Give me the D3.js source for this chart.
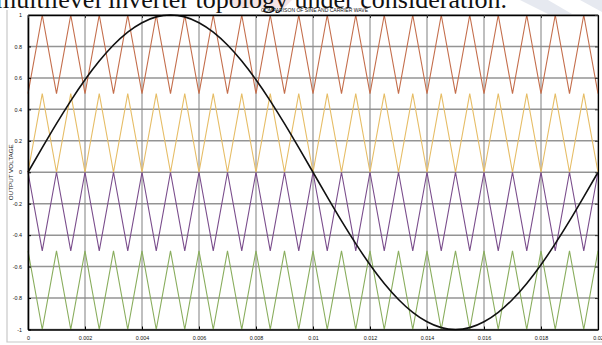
<!DOCTYPE html>
<html>
<head>
<meta charset="utf-8">
<script src="https://cdn.jsdelivr.net/npm/d3@7"></script>
<style>
  html, body { margin: 0; padding: 0; background: #fff; overflow: hidden; }
  svg { display: block; }
</style>
</head>
<body>
<div id="chart"></div>
<script>
// time of each carrier vertex / sine sample (seconds)
const sampleTimes = [
    0, 0.0005, 0.001, 0.0015, 0.002, 0.0025, 0.003, 0.0035, 0.004, 0.0045,
    0.005, 0.0055, 0.006, 0.0065, 0.007, 0.0075, 0.008, 0.0085, 0.009, 0.0095,
    0.01, 0.0105, 0.011, 0.0115, 0.012, 0.0125, 0.013, 0.0135, 0.014, 0.0145,
    0.015, 0.0155, 0.016, 0.0165, 0.017, 0.0175, 0.018, 0.0185, 0.019, 0.0195,
    0.02,
];

// triangular carriers (vertex values)
const carrierTop = [
    0.5, 1, 0.5, 1, 0.5, 1, 0.5, 1, 0.5, 1, 0.5, 1, 0.5, 1, 0.5, 1, 0.5, 1, 0.5, 1,
    0.5, 1, 0.5, 1, 0.5, 1, 0.5, 1, 0.5, 1, 0.5, 1, 0.5, 1, 0.5, 1, 0.5, 1, 0.5, 1, 0.5,
];
const carrierUpper = [
    0, 0.5, 0, 0.5, 0, 0.5, 0, 0.5, 0, 0.5, 0, 0.5, 0, 0.5, 0, 0.5, 0, 0.5, 0, 0.5,
    0, 0.5, 0, 0.5, 0, 0.5, 0, 0.5, 0, 0.5, 0, 0.5, 0, 0.5, 0, 0.5, 0, 0.5, 0, 0.5, 0,
];
const carrierLower = [
    0, -0.5, 0, -0.5, 0, -0.5, 0, -0.5, 0, -0.5, 0, -0.5, 0, -0.5, 0, -0.5, 0, -0.5, 0, -0.5,
    0, -0.5, 0, -0.5, 0, -0.5, 0, -0.5, 0, -0.5, 0, -0.5, 0, -0.5, 0, -0.5, 0, -0.5, 0, -0.5, 0,
];
const carrierBottom = [
    -0.5, -1, -0.5, -1, -0.5, -1, -0.5, -1, -0.5, -1, -0.5, -1, -0.5, -1, -0.5, -1, -0.5, -1, -0.5, -1,
    -0.5, -1, -0.5, -1, -0.5, -1, -0.5, -1, -0.5, -1, -0.5, -1, -0.5, -1, -0.5, -1, -0.5, -1, -0.5, -1, -0.5,
];

// reference sine
const sineValues = [
    0, 0.156, 0.309, 0.454, 0.588, 0.707, 0.809, 0.891, 0.951, 0.988,
    1, 0.988, 0.951, 0.891, 0.809, 0.707, 0.588, 0.454, 0.309, 0.156,
    0, -0.156, -0.309, -0.454, -0.588, -0.707, -0.809, -0.891, -0.951, -0.988,
    -1, -0.988, -0.951, -0.891, -0.809, -0.707, -0.588, -0.454, -0.309, -0.156,
    0,
];

const xTicks = [0, 0.002, 0.004, 0.006, 0.008, 0.01, 0.012, 0.014, 0.016, 0.018, 0.02];
const xTickLabels = ['0', '0.002', '0.004', '0.006', '0.008', '0.01', '0.012', '0.014', '0.016', '0.018', '0.02'];
const yTicks = [-1, -0.8, -0.6, -0.4, -0.2, 0, 0.2, 0.4, 0.6, 0.8, 1];
const yTickLabels = ['-1', '-0.8', '-0.6', '-0.4', '-0.2', '0', '0.2', '0.4', '0.6', '0.8', '1'];

const titleText = 'COMPARISON OF SINE AND CARRIER WAVE';
const yLabelText = 'OUTPUT VOLTAGE';
const captionText = 'multilevel inverter topology under consideration.';

const totalWidth = 602;
const totalHeight = 345;
const plot = { left: 28, right: 598, top: 15, bottom: 329.5 };
const fontColour = '#111';

const svg = d3
    .select('#chart')
    .append('svg')
    .attr('width', totalWidth)
    .attr('height', totalHeight)
    .attr('viewBox', `0 0 ${totalWidth} ${totalHeight}`);

const x = d3.scaleLinear().domain([0, 0.02]).range([plot.left, plot.right]);
const y = d3.scaleLinear().domain([-1, 1]).range([plot.bottom, plot.top]);

// faint page watermark bits
svg.append('path')
    .attr('d', 'M228,0 L292,0 L284,8 L236,8 Z')
    .attr('fill', '#f5e3e3');
svg.append('path')
    .attr('d', 'M520,0 L548,0 L572,14 L548,14 Z')
    .attr('fill', '#e6e9f0');
svg.append('path')
    .attr('d', 'M580,0 L602,0 L602,12 Z')
    .attr('fill', '#e6e9f0');

// caption text of the page, cut by the top edge
svg.append('text')
    .attr('x', -4)
    .attr('y', 8)
    .attr('textLength', 511)
    .attr('lengthAdjust', 'spacingAndGlyphs')
    .style('font-family', '"Liberation Serif", "Times New Roman", serif')
    .style('font-size', '26px')
    .attr('fill', '#111')
    .text(captionText);

// figure frame
svg.append('path')
    .attr('d', `M7,10 L7,342 L${totalWidth},342`)
    .attr('fill', 'none')
    .attr('stroke', '#c8c8c8')
    .attr('stroke-width', 1.2);

// grid
svg.append('g')
    .attr('class', 'grid-y')
    .selectAll('line')
    .data(yTicks)
    .join('line')
    .attr('x1', plot.left)
    .attr('x2', plot.right)
    .attr('y1', (d) => y(d))
    .attr('y2', (d) => y(d))
    .attr('stroke', '#949494')
    .attr('stroke-width', 1.5);

svg.append('g')
    .attr('class', 'grid-x')
    .selectAll('line')
    .data(xTicks)
    .join('line')
    .attr('x1', (d) => x(d))
    .attr('x2', (d) => x(d))
    .attr('y1', plot.top)
    .attr('y2', plot.bottom)
    .attr('stroke', '#8a8a8a')
    .attr('stroke-width', 1.1);

// carriers
const carriers = [
    { values: carrierTop, colour: '#c46e4c' },
    { values: carrierUpper, colour: '#e6bd66' },
    { values: carrierLower, colour: '#7a4d8c' },
    { values: carrierBottom, colour: '#89ad5d' },
];

const line = d3
    .line()
    .x((d) => x(d[0]))
    .y((d) => y(d[1]));

carriers.forEach((c) => {
    svg.append('path')
        .datum(sampleTimes.map((t, i) => [t, c.values[i]]))
        .attr('fill', 'none')
        .attr('stroke', c.colour)
        .attr('stroke-width', 1.1)
        .attr('d', line);
});

// sine reference
svg.append('path')
    .datum(sampleTimes.map((t, i) => [t, sineValues[i]]))
    .attr('fill', 'none')
    .attr('stroke', '#111')
    .attr('stroke-width', 1.6)
    .attr('d', line.curve(d3.curveNatural));

// axes box
const tickFont = (sel) =>
    sel.attr('fill', fontColour)
        .style('font-family', '"Liberation Sans", Arial, sans-serif')
        .style('font-size', '5.4px');

const xAxis = svg
    .append('g')
    .attr('transform', `translate(0,${plot.bottom})`)
    .call(
        d3.axisBottom(x)
            .tickValues(xTicks)
            .tickFormat((d, i) => xTickLabels[i])
            .tickSizeInner(-3)
            .tickSizeOuter(0)
            .tickPadding(7),
    );
xAxis.select('.domain').attr('stroke', '#000').attr('stroke-width', 1.6);
xAxis.selectAll('line').attr('stroke', '#000');
xAxis.selectAll('text').call(tickFont);

const yAxis = svg
    .append('g')
    .attr('transform', `translate(${plot.left},0)`)
    .call(
        d3.axisLeft(y)
            .tickValues(yTicks)
            .tickFormat((d, i) => yTickLabels[i])
            .tickSizeInner(-3)
            .tickSizeOuter(0)
            .tickPadding(6),
    );
yAxis.select('.domain').attr('stroke', '#000').attr('stroke-width', 1.6);
yAxis.selectAll('line').attr('stroke', '#000');
yAxis.selectAll('text').call(tickFont);

const topAxis = svg
    .append('g')
    .attr('transform', `translate(0,${plot.top})`)
    .call(d3.axisTop(x).tickValues(xTicks).tickFormat('').tickSizeInner(-3).tickSizeOuter(0));
topAxis.select('.domain').attr('stroke', '#000').attr('stroke-width', 1.6);
topAxis.selectAll('line').attr('stroke', '#333');

const rightAxis = svg
    .append('g')
    .attr('transform', `translate(${plot.right},0)`)
    .call(d3.axisRight(y).tickValues(yTicks).tickFormat('').tickSizeInner(-3).tickSizeOuter(0));
rightAxis.select('.domain').attr('stroke', '#000').attr('stroke-width', 1.2);
rightAxis.selectAll('line').attr('stroke', '#333');

// title and y label
svg.append('text')
    .attr('x', 261)
    .attr('y', 11.8)
    .attr('textLength', 107)
    .attr('lengthAdjust', 'spacingAndGlyphs')
    .style('font-family', '"Liberation Sans", Arial, sans-serif')
    .style('font-size', '5.6px')
    .attr('fill', '#111')
    .text(titleText);

svg.append('text')
    .attr('transform', `translate(13,${(plot.top + plot.bottom) / 2}) rotate(-90)`)
    .attr('text-anchor', 'middle')
    .attr('textLength', 56)
    .attr('lengthAdjust', 'spacingAndGlyphs')
    .style('font-family', '"Liberation Sans", Arial, sans-serif')
    .style('font-size', '5.6px')
    .attr('fill', '#222')
    .text(yLabelText);
</script>
</body>
</html>
